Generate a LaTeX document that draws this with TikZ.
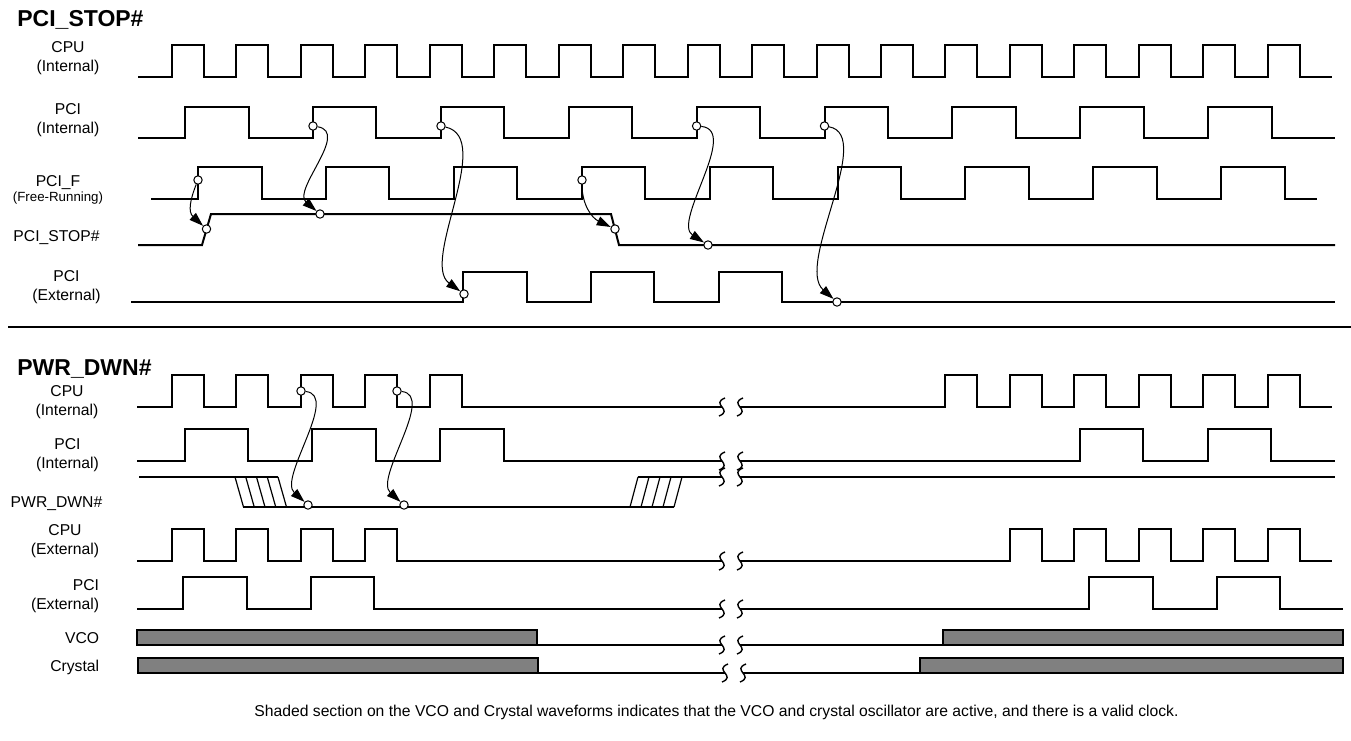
\documentclass[tikz,border=0pt]{standalone}
\usepackage{fontspec}
\setmainfont{Liberation Sans}
\usepackage{tikz}
\usetikzlibrary{arrows.meta}

\begin{document}
\begin{tikzpicture}[x=0.5pt,y=-0.5pt,
    wave/.style={line width=1pt},
    hatch/.style={line width=0.6pt},
    dot/.style={circle,draw,fill=white,line width=0.5pt,inner sep=0pt,minimum size=4.2pt},
    cause/.style={line width=0.5pt,-{Triangle[length=7pt,width=4.6pt]}},
    sig/.style={font=\fontsize{7.85pt}{9.5pt}\selectfont,align=center,inner sep=0pt},
    heading/.style={font=\fontsize{11.5pt}{13pt}\selectfont\bfseries,inner sep=0pt,anchor=base west},
    squig/.pic={\draw[line width=0.7pt] (3,-9) .. controls (-12,-3) and (12,3) .. (-3,9);}]
  \useasboundingbox (0,0) rectangle (1351,740);

  % PCI_STOP# part
  \node[heading] (head_stop) at (17,26.7) {PCI\_STOP\#};
  \node[sig] (l_cpu)  at (68,58.5)  {CPU\\(Internal)};
  \node[sig] (l_pci)  at (68,120)   {PCI\\(Internal)};
  \node[sig] (l_pcif) at (58,190)   {PCI\_F\\[-2pt]{\fontsize{6.65pt}{8pt}\selectfont(Free-Running)}};
  \node[sig,anchor=base] (l_stop) at (56.5,241.6) {PCI\_STOP\#};
  \node[sig] (l_ext)  at (66.5,287) {PCI\\(External)};

  \draw[wave] (138,77) \foreach \k in {0,...,17} {
      -- ({172+64.45*\k},77) -- ++(0,-32) -- ++(32,0) -- ++(0,32)} -- (1332,77);
  \draw[wave] (138,138) \foreach \k in {0,...,8} {
      -- ({185+127.9*\k},138) -- ++(0,-31) -- ++(63.5,0) -- ++(0,31)} -- (1335,138);
  \draw[wave] (151,199) \foreach \k in {0,...,8} {
      -- ({198+127.9*\k},199) -- ++(0,-32) -- ++(63.5,0) -- ++(0,32)} -- (1317,199);
  \draw[wave] (138,245) -- (202,245) -- (211,214) -- (611,214) -- (619,245) -- (1335,245);
  \draw[wave] (131,302) \foreach \k in {0,1,2} {
      -- ({463+127.9*\k},302) -- ++(0,-30) -- ++(63.5,0) -- ++(0,30)} -- (1335,302);

  \node[dot] (f_1)    at (198,180)   {};
  \node[dot] (stop_r) at (206.5,229) {};
  \node[dot] (pci_1)  at (313,126)   {};
  \node[dot] (stop_h) at (320,214)   {};
  \node[dot] (pci_2)  at (441,126)   {};
  \node[dot] (ext_r)  at (464,294)   {};
  \node[dot] (f_2)    at (582,180)   {};
  \node[dot] (stop_f) at (615,229)   {};
  \node[dot] (pci_3)  at (696.6,126) {};
  \node[dot] (stop_l) at (708,245)   {};
  \node[dot] (pci_4)  at (824.5,126) {};
  \node[dot] (ext_l)  at (837,302)   {};

  \draw[cause] (f_1)   .. controls (190,200) and (188,212) .. (stop_r);
  \draw[cause] (pci_1) .. controls (350,132) and (292,190) .. (stop_h);
  \draw[cause] (pci_2) .. controls (495,138) and (420,262) .. (ext_r);
  \draw[cause] (f_2)   .. controls (582,205) and (592,218) .. (stop_f);
  \draw[cause] (pci_3) .. controls (740,130) and (672,222) .. (stop_l);
  \draw[cause] (pci_4) .. controls (875,135) and (795,265) .. (ext_l);

  \draw[wave] (8,327) -- (1351,327);

  % PWR_DWN# part
  \node[heading] (head_dwn) at (17,375) {PWR\_DWN\#};
  \node[sig] (l_cpu_b) at (67,402.5)  {CPU\\(Internal)};
  \node[sig] (l_pci_b) at (67.5,455.5) {PCI\\(Internal)};
  \node[sig,anchor=base] (l_dwn) at (56.5,507.6) {PWR\_DWN\#};
  \node[sig] (l_cpu_x) at (65,541.5)  {CPU\\(External)};
  \node[sig,align=right,anchor=east] (l_pci_x) at (99.5,596) {PCI\\(External)};
  \node[sig,anchor=base east] (l_vco)  at (99.5,643) {VCO};
  \node[sig,anchor=base east] (l_xtal) at (99.5,671) {Crystal};

  \draw[wave] (137,407) \foreach \k in {0,...,4} {
      -- ({172+64.45*\k},407) -- ++(0,-32) -- ++(32,0) -- ++(0,32)} -- (722,407);
  \draw[wave] (740,407) \foreach \k in {12,...,17} {
      -- ({172+64.45*\k},407) -- ++(0,-32) -- ++(32,0) -- ++(0,32)} -- (1332,407);
  \draw[wave] (137,461) \foreach \k in {0,1,2} {
      -- ({184.5+127.9*\k},461) -- ++(0,-32) -- ++(63.5,0) -- ++(0,32)} -- (722,461);
  \draw[wave] (740,461) \foreach \k in {7,8} {
      -- ({184.5+127.9*\k},461) -- ++(0,-32) -- ++(63.5,0) -- ++(0,32)} -- (1335,461);

  \draw[wave] (139,477) -- (278,477);
  \draw[wave] (243,507) -- (674,507);
  \draw[wave] (638,477) -- (722,477);
  \draw[wave] (740,477) -- (1335,477);
  \foreach \i in {0,...,4} {
    \draw[hatch] ({235+10.75*\i},477) -- ++(8.5,30);
    \draw[hatch] ({630+11*\i},507) -- ++(8,-30);
  }

  \draw[wave] (137,561) \foreach \k in {0,...,3} {
      -- ({172+64.45*\k},561) -- ++(0,-32) -- ++(32,0) -- ++(0,32)} -- (722,561);
  \draw[wave] (740,561) \foreach \k in {13,...,17} {
      -- ({172+64.45*\k},561) -- ++(0,-32) -- ++(32,0) -- ++(0,32)} -- (1332,561);
  \draw[wave] (137,609) \foreach \k in {0,1} {
      -- ({183+127.9*\k},609) -- ++(0,-32) -- ++(63.5,0) -- ++(0,32)} -- (722,609);
  \draw[wave] (740,609) \foreach \k in {0,1} {
      -- ({1089+127.9*\k},609) -- ++(0,-32) -- ++(63.5,0) -- ++(0,32)} -- (1343,609);

  \draw[wave,fill=gray] (137,630) rectangle (537,645);
  \draw[wave] (537,645) -- (722,645);
  \draw[wave] (740,645) -- (943,645);
  \draw[wave,fill=gray] (943,630) rectangle (1343,645);
  \draw[wave,fill=gray] (138,658) rectangle (538,673);
  \draw[wave] (538,673) -- (725,673);
  \draw[wave] (743,673) -- (920,673);
  \draw[wave,fill=gray] (920,658) rectangle (1343,673);

  \foreach \y in {407,461,477,561,609,645} {
    \pic at (722,\y) {squig};
    \pic at (740,\y) {squig};
  }
  \pic at (725,673) {squig};
  \pic at (743,673) {squig};

  \node[dot] (cpu_r) at (301,391) {};
  \node[dot] (dwn_1) at (308,505) {};
  \node[dot] (cpu_f) at (397,391) {};
  \node[dot] (dwn_2) at (404,505) {};
  \draw[cause] (cpu_r) .. controls (340,395) and (278,478) .. (dwn_1);
  \draw[cause] (cpu_f) .. controls (436,395) and (374,478) .. (dwn_2);

  \node[sig] (note) at (716.5,712) {Shaded section on the VCO and Crystal waveforms indicates that the VCO and crystal oscillator are active, and there is a valid clock.};
\end{tikzpicture}
\end{document}
